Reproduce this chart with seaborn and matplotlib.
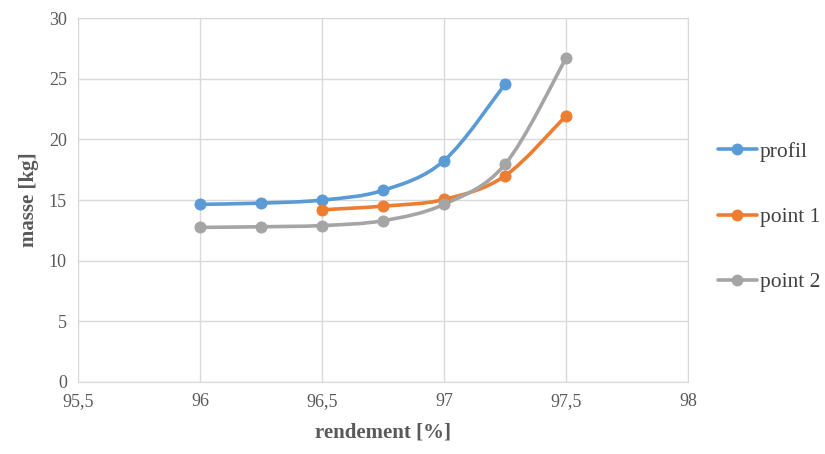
import numpy as np
import matplotlib
matplotlib.use("Agg")
import matplotlib.pyplot as plt
from matplotlib.path import Path
from matplotlib.patches import PathPatch
from matplotlib.lines import Line2D
import seaborn as sns

x_profil = [96, 96.25, 96.5, 96.75, 97, 97.25]
y_profil = [14.65, 14.75, 15.0, 15.8, 18.25, 24.55]
x_point1 = [96.5, 96.75, 97, 97.25, 97.5]
y_point1 = [14.2, 14.5, 15.05, 17.0, 21.95]
x_point2 = [96, 96.25, 96.5, 96.75, 97, 97.25, 97.5]
y_point2 = [12.75, 12.8, 12.9, 13.3, 14.65, 17.95, 26.7]
series = ["profil", "point 1", "point 2"]
colors = ["#5B9BD5", "#ED7D31", "#A5A5A5"]

sns.set_style("white")
plt.rcParams['font.family'] = ['Liberation Serif', 'DejaVu Serif']

fig = plt.figure(figsize=(8.25, 4.54), dpi=100)
ax = fig.add_axes([0.0945, 0.1586, 0.7395, 0.8014])


def smooth_path(xs, ys):
    # bezier curve through the points, like excel's smoothed line
    xs = np.asarray(xs, float)
    ys = np.asarray(ys, float)
    pts = np.column_stack([xs, ys])
    verts = [pts[0]]
    codes = [Path.MOVETO]
    n = len(pts)
    for i in range(n - 1):
        p0 = pts[i - 1] if i > 0 else pts[i]
        p1 = pts[i]
        p2 = pts[i + 1]
        p3 = pts[i + 2] if i + 2 < n else pts[i + 1]
        c1 = p1 + (p2 - p0) / 6.0
        c2 = p2 - (p3 - p1) / 6.0
        verts += [c1, c2, p2]
        codes += [Path.CURVE4] * 3
    return Path(verts, codes)


data = [(x_profil, y_profil), (x_point1, y_point1), (x_point2, y_point2)]
for (xs, ys), name, c in zip(data, series, colors):
    ax.add_patch(PathPatch(smooth_path(xs, ys), facecolor="none", edgecolor=c,
                           lw=2.6, capstyle="round", zorder=3))
    sns.scatterplot(x=xs, y=ys, ax=ax, color=c, s=64, edgecolor=c, zorder=4)

ax.set_xlim(95.5, 98)
ax.set_ylim(0, 30)
ax.set_xticks([95.5, 96, 96.5, 97, 97.5, 98])
ax.set_xticklabels(["95,5", "96", "96,5", "97", "97,5", "98"])
ax.set_yticks(range(0, 31, 5))
ax.grid(True, color="#D9D9D9", lw=1)
for s in ax.spines.values():
    s.set_color("#D9D9D9")
ax.tick_params(colors="#595959", labelsize=13, length=0, pad=8)
ax.set_xlabel("rendement [%]", fontsize=15, fontweight="bold", color="#595959", labelpad=9)
ax.set_ylabel("masse [kg]", fontsize=15, fontweight="bold", color="#595959", labelpad=7)

handles = [Line2D([0], [0], color=c, lw=2.6, marker="o", markersize=7.5) for c in colors]
fig.legend(handles, series, loc="center left", bbox_to_anchor=(0.870, 0.522),
           frameon=False, fontsize=15.5, labelspacing=2.1, handlelength=1.8,
           handletextpad=0.14, labelcolor="#404040", borderpad=0, borderaxespad=0)

fig.savefig("out.png", dpi=100)
